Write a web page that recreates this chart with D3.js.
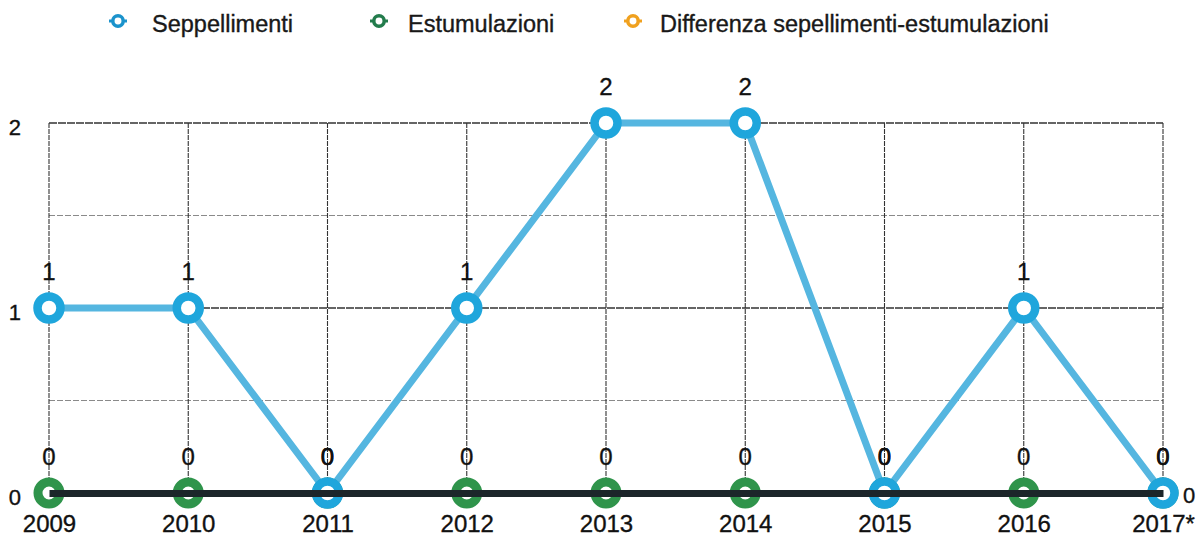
<!DOCTYPE html>
<html>
<head>
<meta charset="utf-8">
<script src="https://cdn.jsdelivr.net/npm/d3@7"></script>
<style>
  body { margin: 0; background: #fff; }
  svg { display: block; font-family: "Liberation Sans", Arial, Helvetica, sans-serif; }
  svg text { stroke: #111; stroke-width: 0.35px; }
</style>
</head>
<body>
<div id="chart"></div>
<script>
// ------------------------- data ------------------------//
var years = ["2009", "2010", "2011", "2012", "2013", "2014", "2015", "2016", "2017"];
var yearLabels = ["2009", "2010", "2011", "2012", "2013", "2014", "2015", "2016", "2017*"];
var seppellimenti = [1, 1, 0, 1, 2, 2, 0, 1, 0];
var estumulazioni = [0, 0, 0, 0, 0, 0, 0, 0, 0];
var differenza = [1, 1, 0, 1, 2, 2, 0, 1, 0];
var yTicks = [0, 1, 2];
var gridMajor = [1, 2];
var gridMinor = [0.5, 1.5];
var seriesNames = ["Seppellimenti", "Estumulazioni", "Differenza sepellimenti-estumulazioni"];

// ------------------------- svg init ------------------------//
var width = 1202,
  height = 540;

var colBlue = "#1fa6dc", colBlueLine = "#55b6e0",
  colGreen = "#2f944b", colOrange = "#f0a11f", colDark = "#1c262a";

var svg = d3.select("#chart").append("svg")
  .attr("width", width)
  .attr("height", height);

var x = d3.scalePoint().domain(years).range([49, 1163]);
var y = d3.scaleLinear().domain([0, 2]).range([493, 123]);

// ------------------------- grid ------------------------//
svg.selectAll(".gminor").data(gridMinor).enter().append("line")
  .attr("x1", x(years[0])).attr("x2", x(years[years.length - 1]))
  .attr("y1", d => y(d)).attr("y2", d => y(d))
  .attr("stroke", "#8a8a8a").attr("stroke-width", 1)
  .attr("stroke-dasharray", "6,2");

svg.selectAll(".gmajor").data(gridMajor).enter().append("line")
  .attr("x1", x(years[0])).attr("x2", x(years[years.length - 1]))
  .attr("y1", d => y(d)).attr("y2", d => y(d))
  .attr("stroke", "#333").attr("stroke-width", 1.3)
  .attr("stroke-dasharray", "8,1");

svg.selectAll(".vgrid").data(years).enter().append("line")
  .attr("x1", d => x(d)).attr("x2", d => x(d))
  .attr("y1", y(2)).attr("y2", y(0))
  .attr("stroke", "#333").attr("stroke-width", 1.1)
  .attr("stroke-dasharray", "5,1");

// ------------------------- lines ------------------------//
var line = d3.line()
  .x((d, i) => x(years[i]))
  .y(d => y(d));

// differenza lies under seppellimenti (same values)
svg.append("path").datum(differenza)
  .attr("d", line).attr("fill", "none")
  .attr("stroke", colOrange).attr("stroke-width", 4);

svg.append("path").datum(seppellimenti)
  .attr("d", line).attr("fill", "none")
  .attr("stroke", colBlueLine).attr("stroke-width", 7)
  .attr("stroke-linejoin", "round");

// ------------------------- markers ------------------------//
svg.selectAll(".mgreen").data(estumulazioni).enter().append("circle")
  .attr("cx", (d, i) => x(years[i])).attr("cy", d => y(d))
  .attr("r", 11).attr("fill", "#fff")
  .attr("stroke", colGreen).attr("stroke-width", 9);

svg.selectAll(".mblue").data(seppellimenti).enter().append("circle")
  .attr("cx", (d, i) => x(years[i])).attr("cy", d => y(d))
  .attr("r", 11.5).attr("fill", "#fff")
  .attr("stroke", colBlue).attr("stroke-width", 8.5);

// ------------------------- axes ------------------------//
var xAxis = svg.append("g")
  .attr("transform", "translate(0," + y(0) + ")")
  .call(d3.axisBottom(x).tickSize(0).tickSizeOuter(0).tickPadding(22)
    .tickFormat((d, i) => yearLabels[i]));
xAxis.select(".domain").attr("stroke", colDark).attr("stroke-width", 7);
xAxis.selectAll("text").attr("font-size", 24).attr("fill", "#111")
  .attr("font-family", "Liberation Sans, Arial, sans-serif");

var yAxis = svg.append("g")
  .attr("transform", "translate(" + x(years[0]) + ",0)")
  .call(d3.axisLeft(y).tickValues(yTicks).tickSize(0).tickPadding(28).tickFormat(d3.format("d")));
yAxis.select(".domain").remove();
yAxis.selectAll("text").attr("font-size", 22).attr("fill", "#111").attr("dy", "0.5em")
  .attr("font-family", "Liberation Sans, Arial, sans-serif");

var yAxisR = svg.append("g")
  .attr("transform", "translate(" + x(years[years.length - 1]) + ",0)")
  .call(d3.axisRight(y).tickValues([0]).tickSize(0).tickPadding(20).tickFormat(d3.format("d")));
yAxisR.select(".domain").remove();
yAxisR.selectAll("text").attr("font-size", 22).attr("fill", "#111").attr("dy", "0.42em")
  .attr("font-family", "Liberation Sans, Arial, sans-serif");

// ------------------------- data labels ------------------------//
[estumulazioni, seppellimenti].forEach(function (vals) {
  svg.append("g").selectAll("text").data(vals).enter().append("text")
    .attr("x", (d, i) => x(years[i]))
    .attr("y", d => y(d) - 28)
    .attr("text-anchor", "middle")
    .attr("font-size", 24).attr("fill", "#111")
    .text(d => d);
});

// ------------------------- legend ------------------------//
var legendX = [118, 379, 633];
var legendCol = ["#1b93cc", "#237c4c", colOrange];
var leg = svg.append("g").selectAll("g").data(seriesNames).enter().append("g")
  .attr("transform", (d, i) => "translate(" + legendX[i] + ",21)");
leg.append("line").attr("x1", -9).attr("x2", 9)
  .attr("stroke", (d, i) => legendCol[i]).attr("stroke-width", 3);
leg.append("circle").attr("r", 5.2).attr("fill", "#fff")
  .attr("stroke", (d, i) => legendCol[i]).attr("stroke-width", 3.5);
leg.append("text").attr("x", (d, i) => [34, 29, 27][i]).attr("y", 11)
  .attr("font-size", 23.5).attr("fill", "#1a1a1a")
  .text(d => d);
</script>
</body>
</html>
